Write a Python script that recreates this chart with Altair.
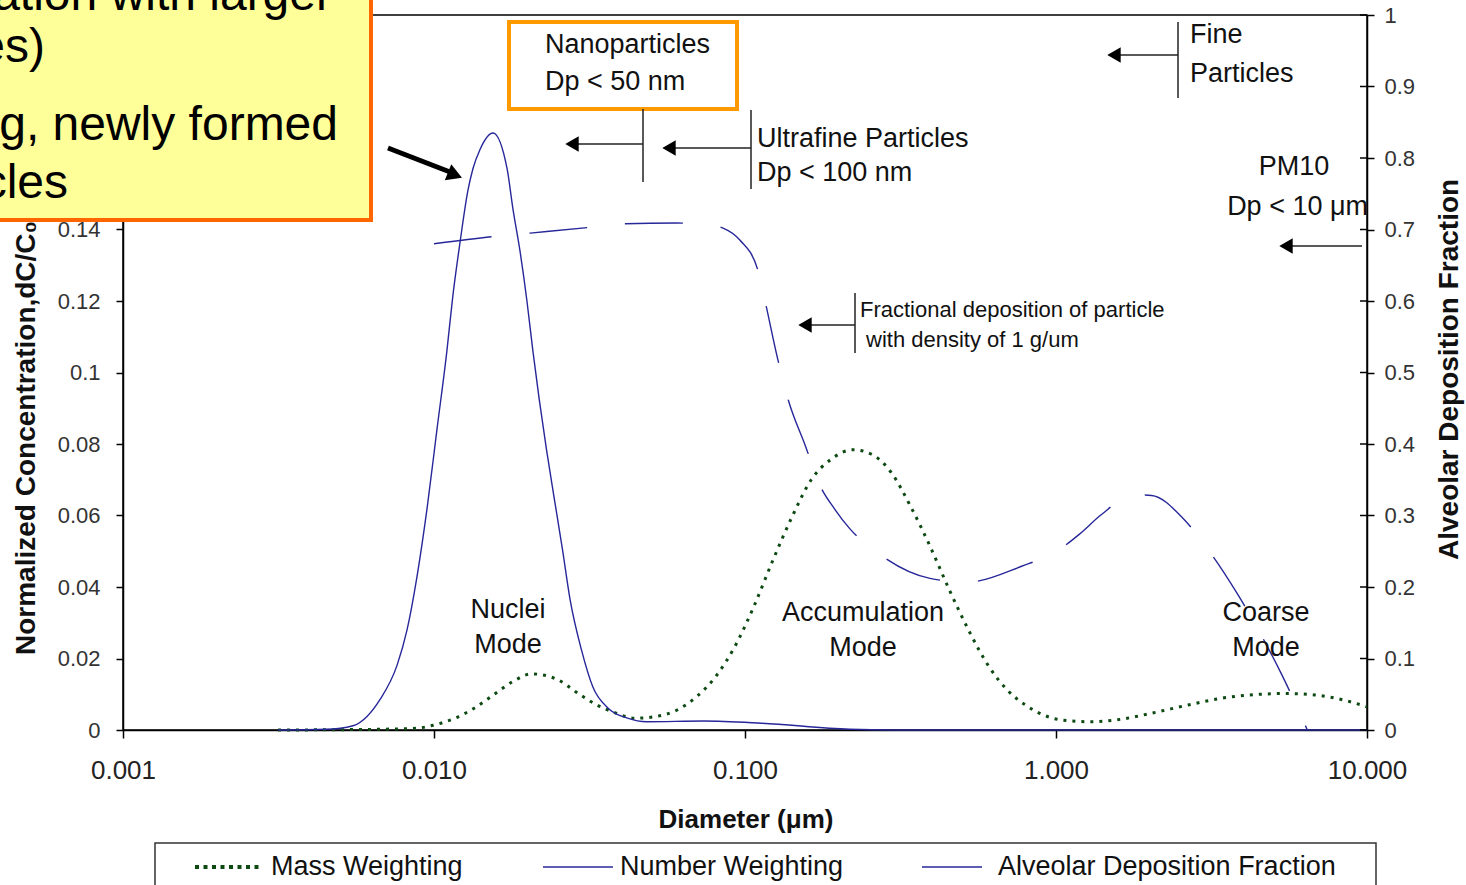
import altair as alt
import pandas as pd

# ---------------- data ----------------
MW_D = [0.00315, 0.0066, 0.0088, 0.0100, 0.01169, 0.01346, 0.01552, 0.01788, 0.0206, 0.0224,
        0.0251, 0.029, 0.0334, 0.0385, 0.0443, 0.0511, 0.0605, 0.0698, 0.0804, 0.0927,
        0.1067, 0.1231, 0.1418, 0.1633, 0.1882, 0.2231, 0.257, 0.296, 0.341, 0.394,
        0.454, 0.523, 0.609, 0.697, 0.797, 0.911, 1.041, 1.289, 1.556, 2.03,
        2.66, 3.47, 4.54, 5.47, 6.78, 8.40, 10.0]
MW_C = [0.0, 0.0002, 0.0005, 0.0014, 0.0033, 0.0061, 0.0098, 0.0135, 0.0157, 0.0154,
        0.0140, 0.0103, 0.0070, 0.0047, 0.0033, 0.0037, 0.0056, 0.0093, 0.0149, 0.0233,
        0.0345, 0.0476, 0.0597, 0.0700, 0.0756, 0.0784, 0.0770, 0.0719, 0.0625, 0.0513,
        0.0392, 0.0280, 0.0177, 0.0112, 0.0070, 0.0042, 0.0028, 0.0023, 0.0028, 0.0047,
        0.0070, 0.0090, 0.0100, 0.0102, 0.0098, 0.0084, 0.0065]

NW_D = [0.00315, 0.0045, 0.00549, 0.00609, 0.0067, 0.0076, 0.00819, 0.00882, 0.0095, 0.01022,
        0.0110, 0.0115, 0.01213, 0.01286, 0.01334, 0.01406, 0.01548, 0.01718, 0.01795, 0.0189,
        0.0199, 0.0208, 0.0218, 0.0230, 0.0244, 0.0259, 0.0274, 0.0298, 0.0324, 0.0363,
        0.0419, 0.0483, 0.0738, 0.113, 0.217, 0.30, 10.0]
NW_C = [0.0, 0.0002, 0.0012, 0.0038, 0.0085, 0.018, 0.028, 0.043, 0.062, 0.084,
        0.106, 0.1215, 0.1365, 0.151, 0.157, 0.1624, 0.167, 0.157, 0.1456, 0.134,
        0.120, 0.106, 0.0924, 0.0784, 0.0644, 0.0504, 0.0364, 0.0224, 0.0121, 0.0061,
        0.0033, 0.0023, 0.0025, 0.0019, 0.0002, 0.0, 0.0]

ADF_D = [0.0100, 0.0154, 0.0204, 0.0316, 0.040, 0.060, 0.075, 0.085, 0.0964, 0.110,
         0.116, 0.1277, 0.1377, 0.1565, 0.1729, 0.195, 0.2168, 0.2683, 0.3935, 0.519,
         0.775, 1.013, 1.19, 1.397, 1.778, 2.03, 2.55, 3.04, 3.81, 4.42,
         5.33, 6.43]
ADF_F = [0.680, 0.690, 0.695, 0.703, 0.708, 0.709, 0.707, 0.702, 0.685, 0.643,
         0.600, 0.517, 0.462, 0.397, 0.345, 0.308, 0.282, 0.247, 0.212, 0.207,
         0.229, 0.251, 0.274, 0.301, 0.329, 0.328, 0.297, 0.256, 0.192, 0.144,
         0.0767, 0.0]

X_TICKS = [0.001, 0.01, 0.1, 1, 10]
YL_TICKS = [0, 0.02, 0.04, 0.06, 0.08, 0.1, 0.12, 0.14]
YR_TICKS = [0, 0.1, 0.2, 0.3, 0.4, 0.5, 0.6, 0.7, 0.8, 0.9, 1]

SERIES = ["Mass Weighting", "Number Weighting", "Alveolar Deposition Fraction"]

# ---------------- layout ----------------
FONT = "Liberation Sans"
OX, OY = 123, 15
W, H = 1244, 715
GREEN = "#0d4a12"
NAVY = "#27279a"

df_mw = pd.DataFrame({"d": MW_D, "c": MW_C})
df_nw = pd.DataFrame({"d": NW_D, "c": NW_C})
df_adf = pd.DataFrame({"d": ADF_D, "f": ADF_F})
df_rt = pd.DataFrame({"f": YR_TICKS})
one = pd.DataFrame({"k": [0]})

xenc = alt.X("d:Q", title=None,
             scale=alt.Scale(type="log", domain=[0.001, 10], nice=False),
             axis=alt.Axis(values=X_TICKS, format=".3f", labelFontSize=26, labelColor="#222",
                           labelPadding=19, tickSize=8, tickColor="black", tickWidth=1.5,
                           domainColor="black", domainWidth=1.5, grid=False,
                           labelFlush=False, labelOverlap=False, labelFont=FONT))

yleft = alt.Y("c:Q", title=None, scale=alt.Scale(domain=[0, 0.2], nice=False),
              axis=alt.Axis(orient="left", values=YL_TICKS, format=".2~f", labelFontSize=22,
                            labelColor="#333", labelPadding=16, tickSize=7, tickColor="black",
                            tickWidth=1.5, domainColor="black", domainWidth=1.5, grid=False,
                            labelFont=FONT, labelOverlap=False))

mw = alt.Chart(df_mw).mark_line(color=GREEN, strokeDash=[3, 6], strokeWidth=3,
                                interpolate="monotone").encode(x=xenc, y=yleft)
nw = alt.Chart(df_nw).mark_line(color=NAVY, strokeWidth=1.4, interpolate="monotone").encode(
    x=xenc, y=alt.Y("c:Q", title=None, scale=alt.Scale(domain=[0, 0.2], nice=False), axis=None))
adf = alt.Chart(df_adf).mark_line(color=NAVY, strokeWidth=1.4, strokeDash=[58, 38],
                                  interpolate="monotone").encode(
    x=xenc,
    y=alt.Y("f:Q", title=None, scale=alt.Scale(domain=[0, 1], nice=False),
            axis=alt.Axis(orient="right", values=YR_TICKS, format=".1~f", labelFontSize=22,
                          labelColor="#333", labelPadding=10, tickSize=7, tickColor="black",
                          tickWidth=1.5, domainColor="black", domainWidth=1.5, grid=False,
                          labelFont=FONT, labelOverlap=False)))
rticks = alt.Chart(df_rt).mark_rule(color="black", strokeWidth=1.5).encode(
    y=alt.Y("f:Q", scale=alt.Scale(domain=[0, 1], nice=False), axis=None),
    x=alt.value(W - 7), x2=alt.value(W))


def T(s, x, y, size=27, align="left", bold=False, angle=0, baseline="middle", color="#111"):
    kw = dict(text=s, font=FONT, fontSize=size, align=align, baseline=baseline, color=color)
    if bold:
        kw["fontWeight"] = "bold"
    if angle:
        kw["angle"] = angle
    return alt.Chart(one).mark_text(**kw).encode(x=alt.value(x - OX), y=alt.value(y - OY))


def R(x1, y1, x2, y2, color="#222", w=1.5, dash=None):
    kw = dict(color=color, strokeWidth=w)
    if dash:
        kw["strokeDash"] = dash
    return alt.Chart(one).mark_rule(**kw).encode(
        x=alt.value(x1 - OX), y=alt.value(y1 - OY), x2=alt.value(x2 - OX), y2=alt.value(y2 - OY))


def TRI(x, y, size=240, shape="triangle-left", angle=0):
    kw = dict(shape=shape, filled=True, color="black", size=size, opacity=1)
    if angle:
        kw["angle"] = angle
    return alt.Chart(one).mark_point(**kw).encode(x=alt.value(x - OX), y=alt.value(y - OY))


def BOX(x1, y1, x2, y2, fill, stroke, sw):
    return alt.Chart(one).mark_rect(fill=fill, stroke=stroke, strokeWidth=sw).encode(
        x=alt.value(x1 - OX), x2=alt.value(x2 - OX), y=alt.value(y1 - OY), y2=alt.value(y2 - OY))


ann = [
    # axis titles
    T("Normalized Concentration,dC/C\u2080", 27, 655, size=28, bold=True, angle=270),
    T("Alveolar Deposition Fraction", 1450, 560, size=28, bold=True, angle=270),
    T("Diameter (\u03bcm)", 746, 820, size=26, bold=True, align="center"),
    # nanoparticles box and brackets
    BOX(509, 22, 737, 109, "white", "#ff9900", 4),
    T("Nanoparticles", 545, 45),
    T("Dp < 50 nm", 545, 82),
    R(643, 109, 643, 182), R(643, 144, 577, 144), TRI(572, 144),
    R(751, 110, 751, 189), R(751, 148, 674, 148), TRI(669, 148),
    T("Ultrafine Particles", 757, 139),
    T("Dp < 100 nm", 757, 173),
    R(1178, 22, 1178, 98), R(1178, 55, 1119, 55), TRI(1114, 55),
    T("Fine", 1190, 35),
    T("Particles", 1190, 74),
    T("PM10", 1294, 167, align="center"),
    T("Dp < 10 \u03bcm", 1368, 207, align="right"),
    R(1362, 246, 1291, 246), TRI(1286, 246),
    R(855, 293, 855, 353), R(855, 325, 810, 325), TRI(805, 325),
    T("Fractional deposition of particle", 860, 310, size=22),
    T("with density of 1 g/um", 866, 340, size=22),
    # mode labels
    T("Nuclei", 508, 610, align="center"), T("Mode", 508, 645, align="center"),
    T("Accumulation", 863, 613, align="center"), T("Mode", 863, 648, align="center"),
    T("Coarse", 1266, 613, align="center"), T("Mode", 1266, 648, align="center"),
    # legend
    BOX(155, 843, 1376, 900, "white", "#333", 1.5),
    R(195, 867, 263, 867, color=GREEN, w=4, dash=[4, 4.5]),
    T(SERIES[0], 271, 867),
    R(543, 867, 613, 867, color=NAVY, w=1.5),
    T(SERIES[1], 620, 867),
    R(922, 867, 982, 867, color=NAVY, w=1.5),
    T(SERIES[2], 998, 867),
    # yellow callout box
    BOX(-30, -30, 371, 220, "#ffff99", "#ff6600", 4),
    T("ation with larger", 332, 10, size=48, align="right", baseline="alphabetic", color="black"),
    T("es)", 45, 62, size=48, align="right", baseline="alphabetic", color="black"),
    T("g, newly formed", 338, 140, size=48, align="right", baseline="alphabetic", color="black"),
    T("cles", 68, 198, size=48, align="right", baseline="alphabetic", color="black"),
    R(388, 148, 450, 172, color="black", w=5),
    TRI(455, 175, size=300, shape="triangle-right", angle=22),
]

chart = alt.layer(mw, nw, adf, rticks, *ann).resolve_scale(y="independent").properties(
    width=W, height=H,
    autosize=alt.AutoSizeParams(type="none"),
    padding={"left": OX, "top": OY, "right": 1466 - OX - W, "bottom": 885 - OY - H},
    background="white",
).configure_view(stroke="black", strokeWidth=1.5)

chart.save("out.html", embed_options={"renderer": "svg", "actions": False})
